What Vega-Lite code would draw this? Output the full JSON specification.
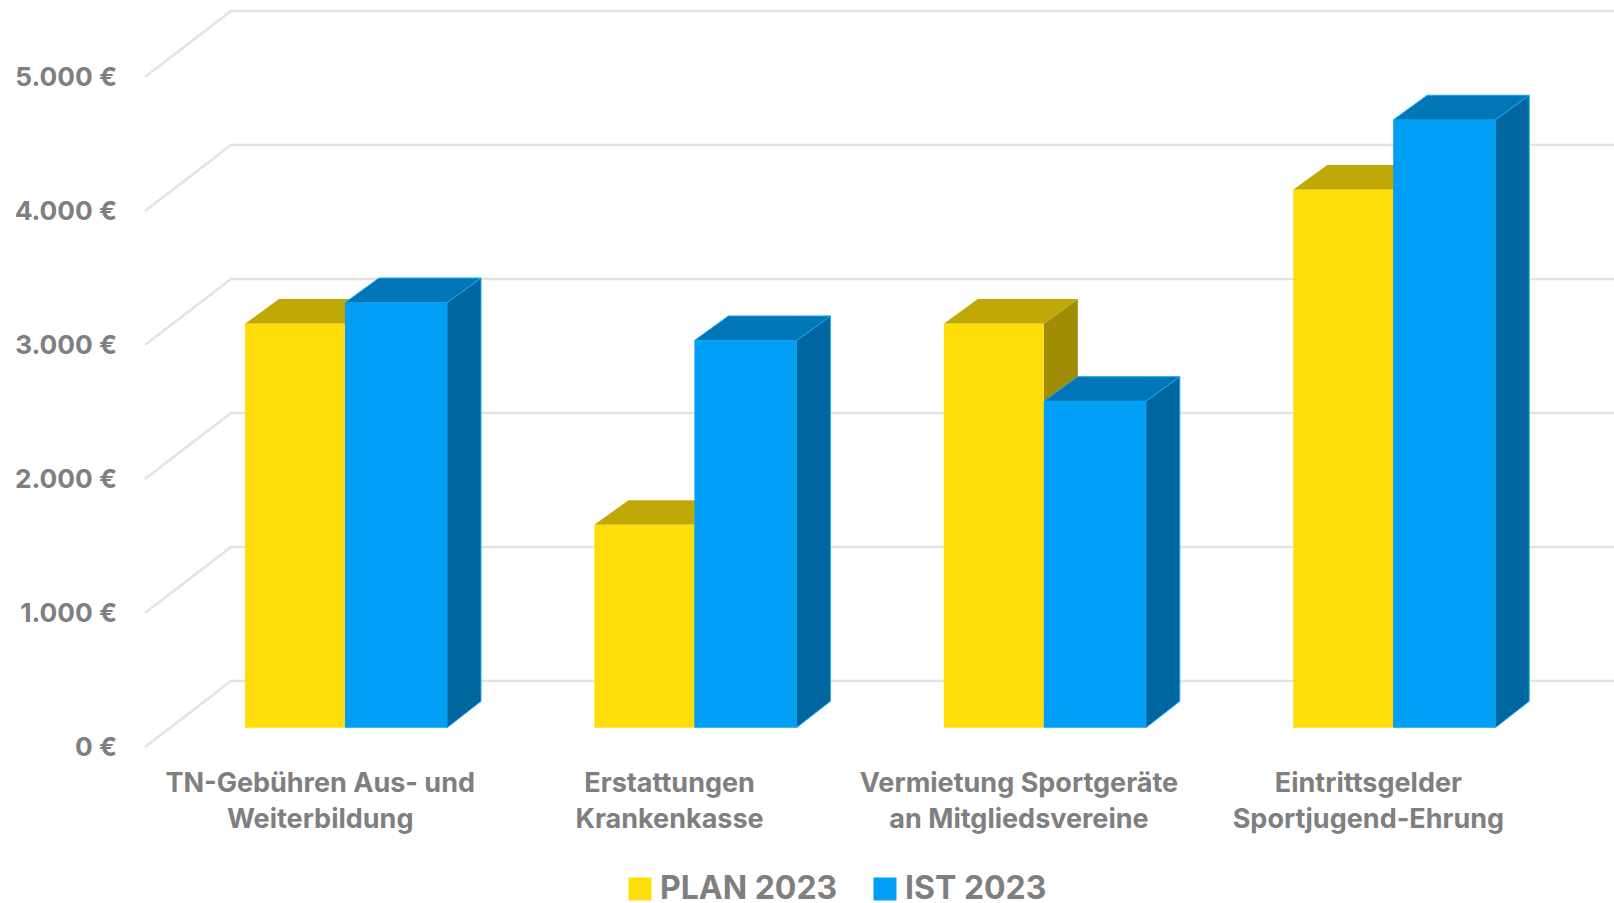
{
"$schema":"https://vega.github.io/schema/vega-lite/v6.json",
"width":1614,"height":903,"autosize":"none","padding":0,"background":"white",
"config":{"view":{"stroke":null},"font":"Inter"},
"datasets":{
"bars":[
{"category":"TN-Gebühren Aus- und Weiterbildung","series":"PLAN 2023","left":0.2862,"right":0.5724,"value":3015},
{"category":"TN-Gebühren Aus- und Weiterbildung","series":"IST 2023","left":0.5724,"right":0.8643,"value":3172},
{"category":"Erstattungen Krankenkasse","series":"PLAN 2023","left":1.2862,"right":1.5724,"value":1514},
{"category":"Erstattungen Krankenkasse","series":"IST 2023","left":1.5724,"right":1.8643,"value":2889},
{"category":"Vermietung Sportgeräte an Mitgliedsvereine","series":"PLAN 2023","left":2.2862,"right":2.5724,"value":3015},
{"category":"Vermietung Sportgeräte an Mitgliedsvereine","series":"IST 2023","left":2.5724,"right":2.8643,"value":2436},
{"category":"Eintrittsgelder Sportjugend-Ehrung","series":"PLAN 2023","left":3.2862,"right":3.5724,"value":4015},
{"category":"Eintrittsgelder Sportjugend-Ehrung","series":"IST 2023","left":3.5724,"right":3.8643,"value":4536}],
"sides":[
{"bar":"P1","series":"PLAN","x":0.5724,"lo":0,"hi":3015},{"bar":"P1","series":"PLAN","x":0.6697,"lo":198,"hi":3199},
{"bar":"P2","series":"PLAN","x":1.5724,"lo":0,"hi":1514},{"bar":"P2","series":"PLAN","x":1.6697,"lo":198,"hi":1698},
{"bar":"P3","series":"PLAN","x":2.5724,"lo":0,"hi":3015},{"bar":"P3","series":"PLAN","x":2.6697,"lo":198,"hi":3199},
{"bar":"P4","series":"PLAN","x":3.5724,"lo":0,"hi":4015},{"bar":"P4","series":"PLAN","x":3.6697,"lo":198,"hi":4199},
{"bar":"I1","series":"IST","x":0.8643,"lo":0,"hi":3172},{"bar":"I1","series":"IST","x":0.9616,"lo":198,"hi":3356},
{"bar":"I2","series":"IST","x":1.8643,"lo":0,"hi":2889},{"bar":"I2","series":"IST","x":1.9616,"lo":198,"hi":3073},
{"bar":"I3","series":"IST","x":2.8643,"lo":0,"hi":2436},{"bar":"I3","series":"IST","x":2.9616,"lo":198,"hi":2620},
{"bar":"I4","series":"IST","x":3.8643,"lo":0,"hi":4536},{"bar":"I4","series":"IST","x":3.9616,"lo":198,"hi":4720}],
"tops":[
{"bar":"P1","series":"PLAN","x":0.2862,"lo":3015,"hi":3015},{"bar":"P1","series":"PLAN","x":0.3835,"lo":3015,"hi":3199},{"bar":"P1","series":"PLAN","x":0.5724,"lo":3015,"hi":3199},{"bar":"P1","series":"PLAN","x":0.6697,"lo":3199,"hi":3199},
{"bar":"P2","series":"PLAN","x":1.2862,"lo":1514,"hi":1514},{"bar":"P2","series":"PLAN","x":1.3835,"lo":1514,"hi":1698},{"bar":"P2","series":"PLAN","x":1.5724,"lo":1514,"hi":1698},{"bar":"P2","series":"PLAN","x":1.6697,"lo":1698,"hi":1698},
{"bar":"P3","series":"PLAN","x":2.2862,"lo":3015,"hi":3015},{"bar":"P3","series":"PLAN","x":2.3835,"lo":3015,"hi":3199},{"bar":"P3","series":"PLAN","x":2.5724,"lo":3015,"hi":3199},{"bar":"P3","series":"PLAN","x":2.6697,"lo":3199,"hi":3199},
{"bar":"P4","series":"PLAN","x":3.2862,"lo":4015,"hi":4015},{"bar":"P4","series":"PLAN","x":3.3835,"lo":4015,"hi":4199},{"bar":"P4","series":"PLAN","x":3.5724,"lo":4015,"hi":4199},{"bar":"P4","series":"PLAN","x":3.6697,"lo":4199,"hi":4199},
{"bar":"I1","series":"IST","x":0.5724,"lo":3172,"hi":3172},{"bar":"I1","series":"IST","x":0.6697,"lo":3172,"hi":3356},{"bar":"I1","series":"IST","x":0.8643,"lo":3172,"hi":3356},{"bar":"I1","series":"IST","x":0.9616,"lo":3356,"hi":3356},
{"bar":"I2","series":"IST","x":1.5724,"lo":2889,"hi":2889},{"bar":"I2","series":"IST","x":1.6697,"lo":2889,"hi":3073},{"bar":"I2","series":"IST","x":1.8643,"lo":2889,"hi":3073},{"bar":"I2","series":"IST","x":1.9616,"lo":3073,"hi":3073},
{"bar":"I3","series":"IST","x":2.5724,"lo":2436,"hi":2436},{"bar":"I3","series":"IST","x":2.6697,"lo":2436,"hi":2620},{"bar":"I3","series":"IST","x":2.8643,"lo":2436,"hi":2620},{"bar":"I3","series":"IST","x":2.9616,"lo":2620,"hi":2620},
{"bar":"I4","series":"IST","x":3.5724,"lo":4536,"hi":4536},{"bar":"I4","series":"IST","x":3.6697,"lo":4536,"hi":4720},{"bar":"I4","series":"IST","x":3.8643,"lo":4536,"hi":4720},{"bar":"I4","series":"IST","x":3.9616,"lo":4720,"hi":4720}],
"grid":[
{"level":0,"x":0,"y":0},{"level":0,"x":0.2461,"y":492.5},{"level":0,"x":4.2043,"y":492.5},
{"level":1000,"x":0,"y":1000},{"level":1000,"x":0.2461,"y":1492.5},{"level":1000,"x":4.2043,"y":1492.5},
{"level":2000,"x":0,"y":2000},{"level":2000,"x":0.2461,"y":2492.5},{"level":2000,"x":4.2043,"y":2492.5},
{"level":3000,"x":0,"y":3000},{"level":3000,"x":0.2461,"y":3492.5},{"level":3000,"x":4.2043,"y":3492.5},
{"level":4000,"x":0,"y":4000},{"level":4000,"x":0.2461,"y":4492.5},{"level":4000,"x":4.2043,"y":4492.5},
{"level":5000,"x":0,"y":5000},{"level":5000,"x":0.2461,"y":5492.5},{"level":5000,"x":4.2043,"y":5492.5}]
},
"layer":[
{"data":{"name":"grid"},"mark":{"type":"line","color":"#E3E3E3","strokeWidth":2.6},
 "encoding":{
  "x":{"field":"x","type":"quantitative","scale":{"domain":[-0.415,4.2043],"nice":false,"zero":false},
   "axis":{"title":null,"grid":false,"domain":false,"ticks":false,"values":[0.5,1.5,2.5,3.5],"offset":-133,"labelPadding":0,"labelFont":"Inter","labelFontWeight":"bold","labelFontSize":27,"labelLimit":500,"labelColor":"#7F7F7F","labelLineHeight":36,"labelBaseline":"top","labelFlush":false,"labelOverlap":false,"labelBound":false,
    "labelExpr":"datum.value==0.5?['TN-Gebühren Aus- und','Weiterbildung']:datum.value==1.5?['Erstattungen','Krankenkasse']:datum.value==2.5?['Vermietung Sportgeräte','an Mitgliedsvereine']:['Eintrittsgelder','Sportjugend-Ehrung']"}},
  "y":{"field":"y","type":"quantitative","scale":{"domain":[-1164,5575],"nice":false,"zero":false},
   "axis":{"title":null,"grid":false,"domain":false,"ticks":false,"values":[0,1000,2000,3000,4000,5000],"offset":-116.5,"labelPadding":0,"labelFont":"Inter","labelFontWeight":"bold","labelFontSize":26.3,"labelLimit":300,"labelColor":"#7F7F7F","labelFlush":false,"labelOverlap":false,"labelBound":false,
    "labelExpr":"replace(format(datum.value,',.0f'),',','.')+' €'"}},
  "detail":{"field":"level"}}},
{"data":{"name":"sides"},"transform":[{"filter":"datum.series=='PLAN'"}],"mark":{"type":"area","orient":"vertical","color":"#A08D04","yOffset":-19.3,"y2Offset":-19.3},
 "encoding":{"x":{"field":"x","type":"quantitative","title":null},"y":{"field":"hi","type":"quantitative","title":null},"y2":{"field":"lo"},"detail":{"field":"bar"}}},
{"data":{"name":"tops"},"transform":[{"filter":"datum.series=='PLAN'"}],"mark":{"type":"area","orient":"vertical","color":"#C0A806","yOffset":-19.3,"y2Offset":-19.3},
 "encoding":{"x":{"field":"x","type":"quantitative","title":null},"y":{"field":"hi","type":"quantitative","title":null},"y2":{"field":"lo"},"detail":{"field":"bar"}}},
{"data":{"name":"sides"},"transform":[{"filter":"datum.series=='IST'"}],"mark":{"type":"area","orient":"vertical","color":"#00669F","stroke":"#1AA6F5","strokeWidth":1,"yOffset":-19.3,"y2Offset":-19.3},
 "encoding":{"x":{"field":"x","type":"quantitative","title":null},"y":{"field":"hi","type":"quantitative","title":null},"y2":{"field":"lo"},"detail":{"field":"bar"}}},
{"data":{"name":"tops"},"transform":[{"filter":"datum.series=='IST'"}],"mark":{"type":"area","orient":"vertical","color":"#0076B8","stroke":"#1AA6F5","strokeWidth":1,"yOffset":-19.3,"y2Offset":-19.3},
 "encoding":{"x":{"field":"x","type":"quantitative","title":null},"y":{"field":"hi","type":"quantitative","title":null},"y2":{"field":"lo"},"detail":{"field":"bar"}}},
{"data":{"name":"bars"},"mark":{"type":"rect","yOffset":-19.3,"y2Offset":-19.3},
 "encoding":{"x":{"field":"left","type":"quantitative","title":null},"x2":{"field":"right"},"y":{"field":"value","type":"quantitative","title":null},"y2":{"datum":0},
  "color":{"field":"series","type":"nominal","scale":{"domain":["PLAN 2023","IST 2023"],"range":["#FFDD0A","#009EF5"]},
   "legend":{"orient":"none","legendX":624,"legendY":873,"direction":"horizontal","columns":2,"title":null,"symbolType":"square","symbolSize":529,"symbolStrokeWidth":0,"labelFont":"Inter","labelFontWeight":"bold","labelFontSize":32,"labelColor":"#7F7F7F","labelOffset":4,"columnPadding":31,"padding":0,"labelLimit":400}}}}
]
}
